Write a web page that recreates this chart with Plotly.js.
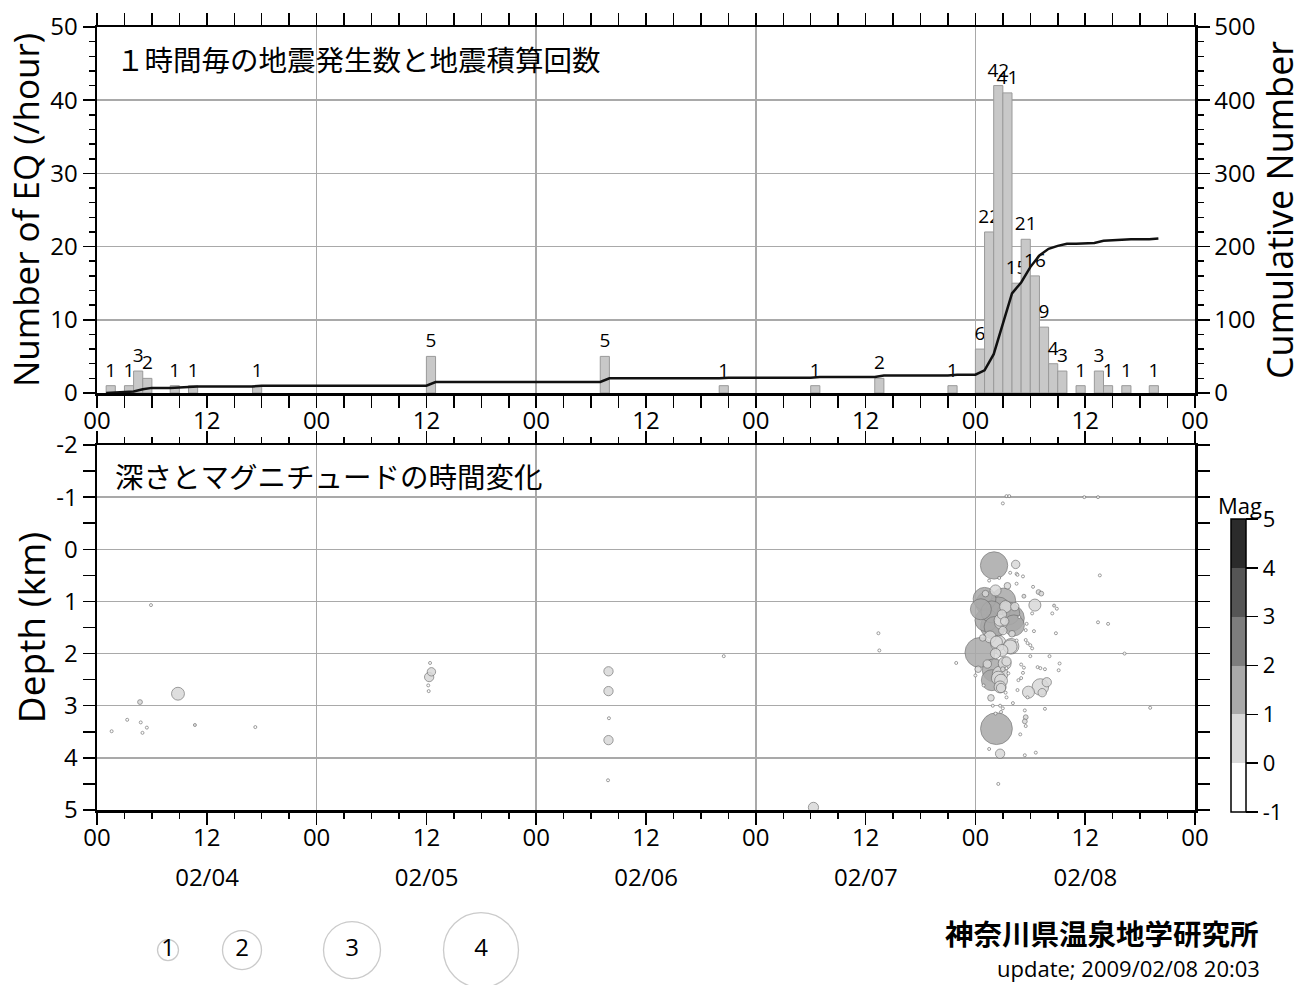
<!DOCTYPE html>
<html><head><meta charset="utf-8">
<script src="https://cdn.plot.ly/plotly-3.0.1.min.js"></script>
<style>html,body{margin:0;padding:0;background:#fff}#chart{width:1310px;height:985px}</style>
</head><body><div id="chart"></div>
<script>
// ---------------- DATA ----------------
// hourly counts (bar starts at the given hour)
const barTimes = ['2009-02-04 01:00','2009-02-04 03:00','2009-02-04 04:00','2009-02-04 05:00','2009-02-04 08:00',
  '2009-02-04 10:00','2009-02-04 17:00','2009-02-05 12:00','2009-02-06 07:00','2009-02-06 20:00',
  '2009-02-07 06:00','2009-02-07 13:00','2009-02-07 21:00','2009-02-08 00:00','2009-02-08 01:00',
  '2009-02-08 02:00','2009-02-08 03:00','2009-02-08 04:00','2009-02-08 05:00','2009-02-08 06:00',
  '2009-02-08 07:00','2009-02-08 08:00','2009-02-08 09:00','2009-02-08 11:00','2009-02-08 13:00',
  '2009-02-08 14:00','2009-02-08 16:00','2009-02-08 19:00'];
const barCounts = [1,1,3,2,1,1,1,5,5,1,1,2,1,6,22,42,41,15,21,16,9,4,3,1,3,1,1,1];

// hypocenters: time (hours after 2009-02-04 00:00), depth (km), magnitude
const eventHours = [1.6,3.3,4.7,4.78,4.97,5.45,5.9,8.85,10.7,17.3,
  36.4,36.55,36.3,36.2,36.25, 55.9,55.9,55.95,55.9,55.85, 68.5,78.3,85.4,85.5,93.9,
  98.04,100.4,100.5,100.6,101.2,100.5,98.2,102.3,102.9,103.2,101.3,102.5,104.6,104.9,104.4,102.2,
  97.4,99.05,99.6,97.2,98.7,99.2,99.0,98.1,100.2,101.6,101.5,102.4,104.8,97.6,100.5,101.5,101.7,102.0,102.2,
  98.3,99.8,96.5,98.9,98.2,98.0,98.7,99.2,97.8,98.7,98.5,99.0,96.9,96.0,99.4,99.6,101.0,101.3,101.2,101.0,
  100.7,100.6,102.8,103.1,103.6,105.2,105.1,103.1,101.8,101.7,99.4,99.3,103.6,98.7,99.0,98.8,98.3,101.4,101.5,101.4,
  101.5,97.5,98.7,101.4,98.5,99.4,99.7,99.0,97.0,98.5,99.3,98.9,97.8,99.9,97.9,98.8,98.5,99.9,99.4,98.8,
  98.8,97.3,96.8,97.1,96.3,96.6,97.7,98.2,97.9,100.1,100.0,100.3,100.8,99.5,97.5,98.6,99.8,103.8,103.3,102.0,
  104.1,100.9,102.6, 107.9,109.4,109.6,109.4,110.5,112.3,115.1];
const eventDepths = [3.49,3.27,2.93,3.32,3.52,3.42,1.07,2.77,3.37,3.41,
  2.18,2.35,2.45,2.61,2.72, 2.34,2.72,3.24,3.66,4.43, 2.05,4.95,1.61,1.94,2.18,
  0.31,0.29,0.47,0.49,0.52,0.66,0.79,0.72,0.82,0.85,0.90,1.07,1.08,1.14,1.23,1.23,
  1.04,0.98,1.23,1.36,1.36,1.38,1.56,1.49,1.46,1.43,1.55,1.57,1.61,1.68,1.75,1.74,1.80,1.84,1.90,
  1.78,1.87,1.98,1.94,2.00,2.32,2.39,2.19,2.51,2.64,2.47,2.30,2.61,2.42,2.28,2.38,2.21,2.27,2.37,2.47,
  2.51,2.70,2.26,2.28,2.30,2.19,2.32,2.64,2.74,2.84,2.84,2.75,3.06,3.00,3.05,3.12,3.44,3.09,3.22,3.30,
  3.39,3.83,3.92,3.95,4.50,-1.02,-1.02,-0.88,0.95,1.15,1.10,1.25,1.20,1.32,1.48,1.41,1.80,1.86,2.15,2.52,
  2.66,2.20,1.70,0.85,2.30,1.15,2.85,3.15,3.00,2.95,1.62,1.10,1.30,0.70,0.60,0.55,0.45,2.55,2.75,2.05,
  2.05,3.55,3.90, -1.0,-1.0,0.5,1.40,1.43,2.0,3.04];
const eventMags = [-0.3,-0.3,0.1,-0.3,-0.3,-0.3,-0.3,0.55,0.0,-0.2,
  -0.3,0.3,0.35,-0.3,-0.4, 0.35,0.35,-0.3,0.35,-0.4, -0.3,0.4,-0.4,-0.4,-0.3,
  1.35,0.3,-0.3,-0.3,-0.3,-0.3,0.45,-0.3,0.1,0.1,0.05,0.5,0.0,-0.2,-0.3,-0.3,
  1.2,1.2,1.1,1.1,0.5,0.3,0.3,1.0,1.0,-0.3,-0.3,-0.3,-0.3,0.5,-0.3,-0.3,-0.2,-0.3,-0.3,
  0.5,0.6,1.5,0.5,0.4,1.1,0.7,0.55,1.0,0.5,0.6,0.1,-0.3,-0.3,-0.3,-0.3,-0.3,-0.3,-0.2,-0.3,
  -0.3,-0.3,-0.3,-0.3,-0.3,-0.3,-0.3,0.75,0.5,-0.3,-0.3,-0.3,-0.3,-0.3,-0.3,-0.3,1.6,-0.3,0.1,0.1,
  -0.3,-0.3,0.35,-0.3,-0.3,-0.4,-0.4,-0.3,1.1,1.2,0.5,0.35,1.05,1.3,1.2,0.55,0.7,0.7,0.35,0.55,
  0.35,0.3,0.2,0.2,0.2,1.0,0.2,-0.2,-0.3,-0.3,0.2,0.3,-0.2,0.2,-0.3,-0.2,-0.3,0.35,0.3,-0.3,
  -0.3,-0.3,-0.3, -0.4,-0.4,-0.3,-0.3,-0.3,-0.3,-0.3];

const legendMags = [1,2,3,4];
const depthTicks = [-2,-1,0,1,2,3,4,5];
const magTicks = [-1,0,1,2,3,4,5];
const dayLabels = ['02/04','02/05','02/06','02/07','02/08'];

// ---------------- HELPERS ----------------
const START = Date.UTC(2009,1,4);
const HOUR = 3600000, DAY = 86400000;
function fmt(ms){ return new Date(ms).toISOString().slice(0,19).replace('T',' '); }
function parseT(s){ const [d,t]=s.split(' '); const [Y,M,D]=d.split('-').map(Number); const [h,m]=t.split(':').map(Number); return Date.UTC(Y,M-1,D,h,m); }
function sizeOf(m){ return Math.max(3, 18*m + 3); }
const xRange = [fmt(START), fmt(START + 5*DAY)];
const dayTicks = dayLabels.map((_,i)=>fmt(START + i*DAY));

// cumulative curve from hourly counts
const cumX = [], cumY = [];
let c = 0;
barTimes.forEach((t,i)=>{
  const t0 = parseT(t);
  cumX.push(fmt(t0)); cumY.push(c);
  c += barCounts[i];
  cumX.push(fmt(t0 + HOUR)); cumY.push(c);
});

// draw larger events first
const order = eventMags.map((m,i)=>i).sort((a,b)=>eventMags[b]-eventMags[a]);

const magScale = [[0,'#ffffff'],[1/6,'#ffffff'],[1/6,'#d9d9d9'],[2/6,'#d9d9d9'],[2/6,'#a9a9a9'],[3/6,'#a9a9a9'],
  [3/6,'#7d7d7d'],[4/6,'#7d7d7d'],[4/6,'#555555'],[5/6,'#555555'],[5/6,'#2b2b2b'],[1,'#2b2b2b']];

const FONT = 'Open Sans, sans-serif';
const CJK = 'Noto Sans CJK JP, sans-serif';
const W = 1310, H = 985;
const xDom = [97/W, 1195/W];
const topDom = [1-393/H, 1-27/H];
const botDom = [1-810/H, 1-445/H];
const tickStyle = {ticks:'outside', ticklen:12, tickwidth:1.5, tickcolor:'#000'};
const minorStyle = {ticks:'outside', ticklen:6, tickwidth:1.5, tickcolor:'#000', showgrid:false};
const gridColor = '#a9a9a9';

const traces = [
  {type:'bar', x:barTimes, y:barCounts, xaxis:'x', yaxis:'y', width:HOUR, offset:0,
   marker:{color:'#c8c8c8', line:{color:'#9a9a9a', width:1}},
   text:barCounts.map(String), textposition:'outside', constraintext:'none', cliponaxis:false,
   textfont:{size:19, color:'#000', family:FONT}, hoverinfo:'skip'},
  {type:'scatter', mode:'lines', x:cumX, y:cumY, xaxis:'x', yaxis:'y2',
   line:{color:'#111', width:2.5}, hoverinfo:'skip'},
  {type:'scatter', mode:'markers', x:[], y:[], xaxis:'x4', yaxis:'y', hoverinfo:'skip'},
  {type:'scatter', mode:'markers', x:[], y:[], xaxis:'x5', yaxis:'y3', hoverinfo:'skip'},
  {type:'scatter', mode:'markers', xaxis:'x2', yaxis:'y3',
   x: order.map(i=>fmt(START + eventHours[i]*HOUR)),
   y: order.map(i=>eventDepths[i]),
   marker:{size: order.map(i=>sizeOf(eventMags[i])), color: order.map(i=>eventMags[i]),
     cmin:-1, cmax:5, colorscale:magScale, opacity:0.85,
     line:{color:'#707070', width:0.8},
     showscale:true,
     colorbar:{x:1231/W, xanchor:'left', xpad:0, y:173/H, yanchor:'bottom', ypad:0,
       len:293, lenmode:'pixels', thickness:15, outlinewidth:1.5, outlinecolor:'#000',
       tickmode:'array', tickvals:magTicks, ticktext:magTicks.map(String),
       ticks:'outside', ticklen:12, tickwidth:1.5, tickcolor:'#000',
       tickfont:{size:22, family:FONT, color:'#000'}}},
   hoverinfo:'skip'},
  {type:'scatter', mode:'markers+text', xaxis:'x3', yaxis:'y6',
   x: legendMags.map((m,i)=>[168,242,352,481][i]), y: legendMags.map(()=>0.355),
   text: legendMags.map(String), textposition:'middle center',
   textfont:{size:24, family:FONT, color:'#000'},
   marker:{size: legendMags.map(sizeOf), color:'rgba(0,0,0,0)', line:{color:'#b5b5b5', width:1.3}},
   hoverinfo:'skip'}
];

const layout = {
  width:W, height:H, margin:{l:0,r:0,t:0,b:0}, showlegend:false, hovermode:false,
  paper_bgcolor:'#fff', plot_bgcolor:'rgba(0,0,0,0)',
  font:{family:FONT, color:'#000'},
  xaxis:Object.assign({domain:xDom, anchor:'y', type:'date', range:xRange, tickmode:'linear', tick0:xRange[0], dtick:12*HOUR,
    tickformat:'%H', showgrid:false, zeroline:false, showline:true, linecolor:'#000', linewidth:2.5, mirror:'allticks',
    tickfont:{size:24}, ticklabelstandoff:-7,
    minor:Object.assign({tickmode:'linear', tick0:xRange[0], dtick:3*HOUR}, minorStyle)}, tickStyle),
  xaxis4:{overlaying:'x', anchor:'y', type:'date', range:xRange, tickmode:'array', tickvals:dayTicks,
    showgrid:true, gridcolor:gridColor, gridwidth:1.5, showticklabels:false, ticks:'', showline:false, zeroline:false},
  yaxis:Object.assign({domain:topDom, anchor:'x', range:[0,50], tickmode:'linear', tick0:0, dtick:10,
    showgrid:true, gridcolor:gridColor, gridwidth:1.5, zeroline:false, showline:true, linecolor:'#000', linewidth:2.5,
    tickfont:{size:24}, minor:Object.assign({tickmode:'linear', tick0:0, dtick:2}, minorStyle),
    title:{text:'Number of EQ (/hour)', font:{size:35}, standoff:0}}, tickStyle),
  yaxis2:Object.assign({overlaying:'y', side:'right', anchor:'x', range:[0,500], tickmode:'linear', tick0:0, dtick:100,
    showgrid:false, zeroline:false, showline:true, linecolor:'#000', linewidth:2.5,
    tickfont:{size:24}, minor:Object.assign({tickmode:'linear', tick0:0, dtick:20}, minorStyle),
    title:{text:'Cumulative Number', font:{size:36}, standoff:6}}, tickStyle),
  xaxis2:Object.assign({domain:xDom, anchor:'y3', type:'date', range:xRange, tickmode:'linear', tick0:xRange[0], dtick:12*HOUR,
    tickformat:'%H', showgrid:false, zeroline:false, showline:true, linecolor:'#000', linewidth:2.5, mirror:'allticks',
    tickfont:{size:24}, ticklabelstandoff:-7,
    minor:Object.assign({tickmode:'linear', tick0:xRange[0], dtick:3*HOUR}, minorStyle)}, tickStyle),
  xaxis5:{overlaying:'x2', anchor:'y3', type:'date', range:xRange, tickmode:'array', tickvals:dayTicks, ticktext:dayLabels,
    showgrid:true, gridcolor:gridColor, gridwidth:1.5, showticklabels:true, ticks:'', showline:false, zeroline:false,
    tickfont:{size:24}, ticklabelshift:110, ticklabelstandoff:51},
  yaxis3:Object.assign({domain:botDom, anchor:'x2', range:[5,-2], tickmode:'array', tickvals:depthTicks, ticktext:depthTicks.map(String),
    showgrid:true, gridcolor:gridColor, gridwidth:1.5, zeroline:false, showline:true, linecolor:'#000', linewidth:2.5, mirror:'allticks',
    tickfont:{size:24}, minor:Object.assign({tickmode:'linear', tick0:0, dtick:0.5}, minorStyle),
    title:{text:'Depth (km)', font:{size:37}, standoff:0}}, tickStyle),
  xaxis3:{domain:[0,1], anchor:'y6', range:[0,W], visible:false, fixedrange:true},
  yaxis6:{domain:[0,0.1], anchor:'x3', range:[0,1], visible:false, fixedrange:true},
  annotations:[
    {text:'１時間毎の地震発生数と地震積算回数', xref:'paper', yref:'paper', x:114/W, y:1-58/H, xanchor:'left', yanchor:'middle',
     showarrow:false, font:{family:CJK, size:28.5, color:'#000'}},
    {text:'深さとマグニチュードの時間変化', xref:'paper', yref:'paper', x:113/W, y:1-475/H, xanchor:'left', yanchor:'middle',
     showarrow:false, font:{family:CJK, size:28.5, color:'#000'}},
    {text:'Mag', xref:'paper', yref:'paper', x:1240/W, y:1-505/H, xanchor:'center', yanchor:'middle',
     showarrow:false, font:{family:FONT, size:22, color:'#000'}},
    {text:'<b>神奈川県温泉地学研究所</b>', xref:'paper', yref:'paper', x:1261/W, y:1-932/H, xanchor:'right', yanchor:'middle',
     showarrow:false, font:{family:CJK, size:28.5, color:'#000'}},
    {text:'update; 2009/02/08 20:03', xref:'paper', yref:'paper', x:1262/W, y:1-968/H, xanchor:'right', yanchor:'middle',
     showarrow:false, font:{family:FONT, size:22, color:'#000'}}
  ]
};

Plotly.newPlot('chart', traces, layout, {staticPlot:true, displayModeBar:false});
</script>
</body></html>
